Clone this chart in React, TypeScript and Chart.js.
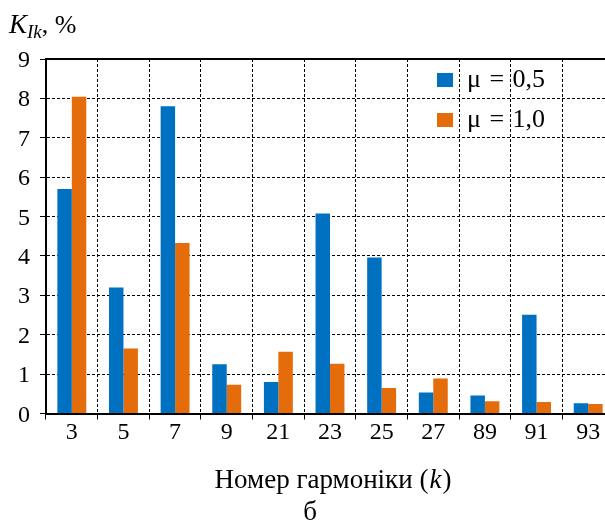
import React, { useEffect, useRef, useState } from "react";
import { Chart, registerables } from "chart.js";

Chart.register(...registerables);

const categories = ["3", "5", "7", "9", "21", "23", "25", "27", "89", "91", "93"];
const mu05 = [5.7, 3.2, 7.8, 1.25, 0.8, 5.08, 3.96, 0.53, 0.46, 2.51, 0.26];
const mu10 = [8.04, 1.65, 4.33, 0.73, 1.57, 1.26, 0.65, 0.89, 0.31, 0.29, 0.24];
const seriesLabels = ["μ = 0,5", "μ = 1,0"];
const seriesColors = ["#0070C0", "#E46C0A"];
const yMin = 0;
const yMax = 9;
const yStep = 1;
const xTitleMain = "Номер гармоніки (";
const xTitleItalic = "k";
const xTitleEnd = ")";
const caption = "б";

const SERIF = "'Liberation Serif', 'Times New Roman', serif";

const decorPlugin = {
  id: "decor",
  afterDraw(chart: any) {
    const { ctx, chartArea } = chart;
    ctx.save();
    ctx.strokeStyle = "#000";
    ctx.lineWidth = 2;
    ctx.setLineDash([]);
    ctx.beginPath();
    ctx.moveTo(chartArea.left - 1, chartArea.top);
    ctx.lineTo(chartArea.right, chartArea.top);
    ctx.stroke();
    chart.data.datasets.forEach((ds: any, i: number) => {
      const y = 80 + i * 40;
      ctx.fillStyle = ds.backgroundColor;
      ctx.fillRect(437, y - 7, 16, 14);
    });
    ctx.restore();
  },
};

type Pos = { xs: { t: string; x: number }[]; ys: { t: string; y: number }[] };

export default function App() {
  const ref = useRef<HTMLCanvasElement>(null);
  const [pos, setPos] = useState<Pos>({ xs: [], ys: [] });
  useEffect(() => {
    if (!ref.current) return;
    const chart: any = new Chart(ref.current, {
      type: "bar",
      data: {
        labels: categories,
        datasets: [
          { label: seriesLabels[0], data: mu05, backgroundColor: seriesColors[0], borderWidth: 0 },
          { label: seriesLabels[1], data: mu10, backgroundColor: seriesColors[1], borderWidth: 0 },
        ],
      },
      options: {
        animation: false,
        responsive: false,
        maintainAspectRatio: false,
        layout: { padding: { top: 59, right: 6, left: 0, bottom: 0 } },
        plugins: { legend: { display: false }, tooltip: { enabled: false }, title: { display: false } },
        datasets: { bar: { categoryPercentage: 0.56, barPercentage: 1.0 } },
        scales: {
          x: {
            offset: true,
            grid: { offset: true, color: "#000", lineWidth: 1, tickLength: 6, tickBorderDash: [] },
            border: { display: true, color: "#000", width: 2, dash: [3, 2] },
            ticks: { display: false, autoSkip: false, maxRotation: 0 },
            afterFit: (scale: any) => {
              scale.height = 110.5;
            },
          },
          y: {
            min: yMin,
            max: yMax,
            grid: { color: "#000", lineWidth: 1, tickLength: 6, tickBorderDash: [] },
            border: { display: true, color: "#000", width: 2, dash: [3, 2] },
            ticks: { display: false, stepSize: yStep },
            afterFit: (scale: any) => {
              scale.width = 46;
            },
          },
        },
      },
      plugins: [decorPlugin],
    });
    const sx = chart.scales.x;
    const sy = chart.scales.y;
    setPos({
      xs: categories.map((c, i) => ({ t: c, x: sx.getPixelForValue(i) })),
      ys: sy.ticks.map((tk: any) => ({ t: String(tk.value), y: sy.getPixelForValue(tk.value) })),
    });
    return () => chart.destroy();
  }, []);

  const txt: React.CSSProperties = {
    position: "absolute",
    fontFamily: SERIF,
    lineHeight: 1,
    whiteSpace: "nowrap",
    color: "#000",
  };

  return (
    <div style={{ position: "absolute", left: 0, top: 0, width: 605, height: 524, overflow: "hidden", background: "#fff" }}>
      <canvas
        ref={ref}
        width={620}
        height={524}
        style={{ position: "absolute", left: 0, top: 0, display: "block", width: 620, height: 524 }}
      />
      {pos.ys.map((p) => (
        <span key={"y" + p.t} style={{ ...txt, fontSize: 24, left: 30, top: p.y, transform: "translate(-100%, -50%)" }}>
          {p.t}
        </span>
      ))}
      {pos.xs.map((p) => (
        <span key={"x" + p.t} style={{ ...txt, fontSize: 24, left: p.x, top: 431, transform: "translate(-50%, -50%)" }}>
          {p.t}
        </span>
      ))}
      {seriesLabels.map((l, i) => (
        <span key={"l" + i} style={{ ...txt, fontSize: 26, left: 467, top: 79 + i * 40, wordSpacing: 2, transform: "translateY(-50%)" }}>
          {l}
        </span>
      ))}
      <div style={{ ...txt, left: 9, top: 11, fontSize: 27 }}>
        <i>K</i>
        <i style={{ fontSize: 19, position: "relative", top: 5 }}>Ik</i>
        <span style={{ fontSize: 26 }}>, %</span>
      </div>
      <div style={{ ...txt, left: 333, top: 466, fontSize: 27, transform: "translateX(-50%)" }}>
        {xTitleMain}
        <i style={{ paddingLeft: 1, paddingRight: 1 }}>{xTitleItalic}</i>
        {xTitleEnd}
      </div>
      <div style={{ ...txt, left: 310, top: 498, fontSize: 27, transform: "translateX(-50%)" }}>{caption}</div>
    </div>
  );
}
